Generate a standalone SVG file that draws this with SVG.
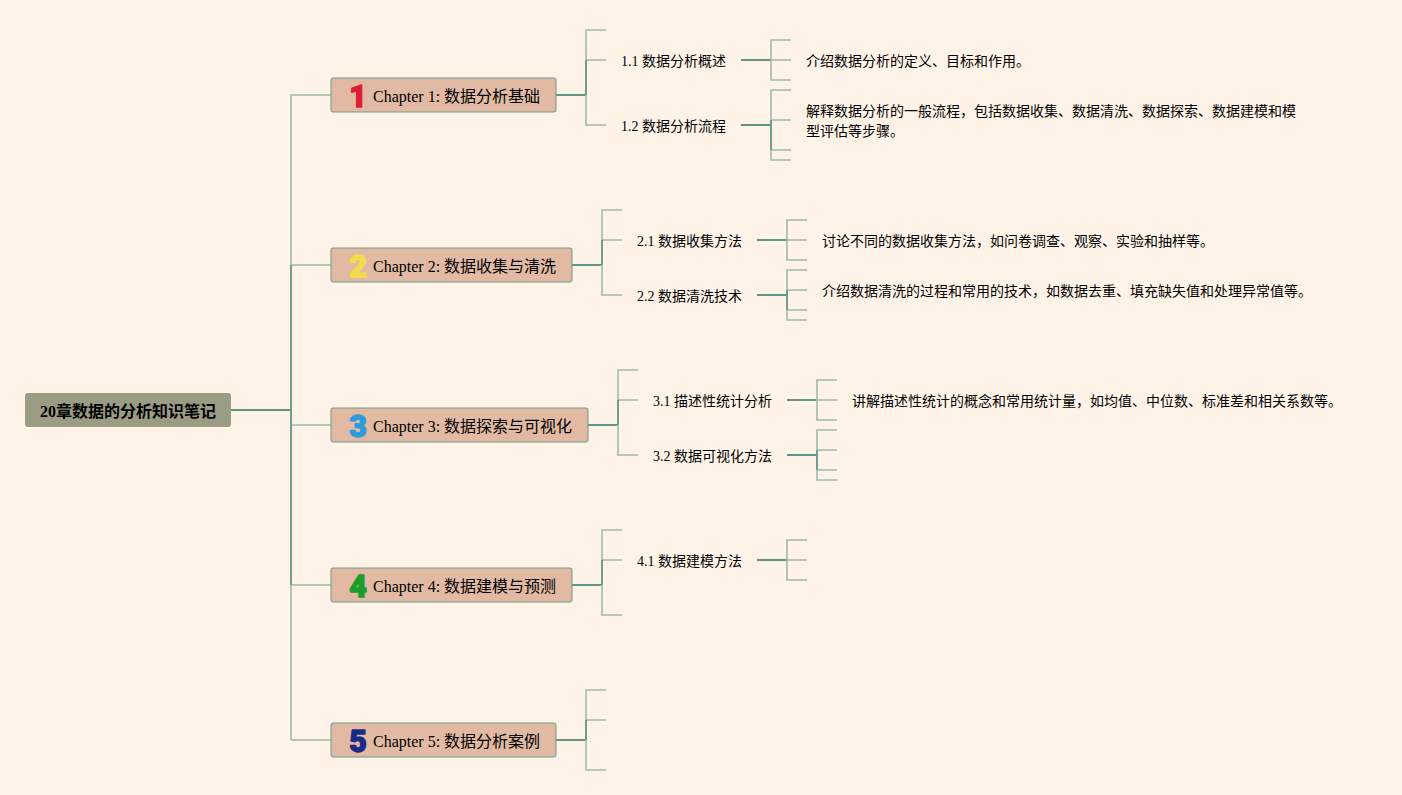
<svg xmlns="http://www.w3.org/2000/svg" width="1402" height="795" viewBox="0 0 1402 795">
<style>
.bg{fill:#fff3e8}
.l{fill:none;stroke:#9dbcaa;stroke-width:1.6}
.d{fill:none;stroke:#5f9684;stroke-width:2.2}
.m{fill:none;stroke:#6f9f90;stroke-width:2}
.ch{fill:#e2baa4;stroke:#6a9a88;stroke-width:1}
.root{fill:#9a9d83}
text{font-family:"Liberation Serif","Noto Sans CJK SC",serif;fill:#000}
.t1{font-size:16px}
.t2{font-size:14px}
.t0{font-size:16px;font-weight:bold}
.n{font-family:Roboto,"Liberation Sans",sans-serif;font-size:32px;font-weight:900;text-anchor:middle;stroke-width:1.4;stroke-linejoin:round}
</style>
<rect class="bg" width="1402" height="795"/>
<g id="connectors">
<path class="l" d="M331 95H291V265M291 265H331M291 425H331M291 585H331M291 740H331M291 585V740"/>
<path class="m" d="M291 265V585"/>
<path class="d" d="M231 410H291"/>
<path class="d" d="M556 95H586M572 265H602M588 425H618M572 585H602M556 740H586"/>
<path class="l" d="M606 30H586V60H606M586 95V125H606"/>
<path class="m" d="M586 60V95"/>
<path class="d" d="M741 60H771M741 125H771"/>
<path class="l" d="M791 40H771V80H791M771 60H791M791 90H771V120H791M771 150H791M771 150V160H791"/>
<path class="m" d="M771 120V150"/>
<path class="l" d="M622 210H602V240H622M602 265V295H622"/>
<path class="m" d="M602 240V265"/>
<path class="d" d="M757 240H787M757 295H787"/>
<path class="l" d="M807 220H787V260H807M787 240H807M807 270H787V290H807M787 310H807M787 310V320H807"/>
<path class="m" d="M787 290V310"/>
<path class="l" d="M638 370H618V400H638M618 425V455H638"/>
<path class="m" d="M618 400V425"/>
<path class="d" d="M787 400H817M787 455H817"/>
<path class="l" d="M837 380H817V420H837M817 400H837M837 430H817V450H837M817 470H837M817 470V480H837"/>
<path class="m" d="M817 450V470"/>
<path class="l" d="M622 530H602V560H622M602 585V615H622"/>
<path class="m" d="M602 560V585"/>
<path class="d" d="M757 560H787"/>
<path class="l" d="M807 540H787V580H807M787 560H807"/>
<path class="l" d="M606 690H586V720H606M586 740V770H606"/>
<path class="m" d="M586 720V740"/>
</g>
<g id="root"><rect class="root" x="25" y="393" width="206" height="34" rx="3"/><text class="t0" x="40" y="417">20章数据的分析知识笔记</text></g>
<g id="ch1"><rect class="ch" x="331" y="78" width="225" height="34" rx="2"/><text class="n" transform="translate(358 106.500) scale(.95 1)" stroke="#dc1e32" style="fill:#dc1e32">1</text><text class="t1" x="373" y="102">Chapter 1: 数据分析基础</text></g>
<g id="ch2"><rect class="ch" x="331" y="248" width="241" height="34" rx="2"/><text class="n" transform="translate(358 276.500) scale(.95 1)" stroke="#f3dc4a" style="fill:#f3dc4a">2</text><text class="t1" x="373" y="272">Chapter 2: 数据收集与清洗</text></g>
<g id="ch3"><rect class="ch" x="331" y="408" width="257" height="34" rx="2"/><text class="n" transform="translate(358 436.500) scale(.95 1)" stroke="#2e9bdc" style="fill:#2e9bdc">3</text><text class="t1" x="373" y="432">Chapter 3: 数据探索与可视化</text></g>
<g id="ch4"><rect class="ch" x="331" y="568" width="241" height="34" rx="2"/><text class="n" transform="translate(358 596.500) scale(.95 1)" stroke="#1a9e2c" style="fill:#1a9e2c">4</text><text class="t1" x="373" y="592">Chapter 4: 数据建模与预测</text></g>
<g id="ch5"><rect class="ch" x="331" y="723" width="225" height="34" rx="2"/><text class="n" transform="translate(358 751.500) scale(.95 1)" stroke="#1a2a86" style="fill:#1a2a86">5</text><text class="t1" x="373" y="747">Chapter 5: 数据分析案例</text></g>
<g id="s11"><text class="t2" x="621" y="66">1.1 数据分析概述</text></g>
<g id="s12"><text class="t2" x="621" y="131">1.2 数据分析流程</text></g>
<g id="s21"><text class="t2" x="637" y="246">2.1 数据收集方法</text></g>
<g id="s22"><text class="t2" x="637" y="301">2.2 数据清洗技术</text></g>
<g id="s31"><text class="t2" x="653" y="406">3.1 描述性统计分析</text></g>
<g id="s32"><text class="t2" x="653" y="461">3.2 数据可视化方法</text></g>
<g id="s41"><text class="t2" x="637" y="566">4.1 数据建模方法</text></g>
<g id="n11"><text class="t2" x="806" y="66">介绍数据分析的定义、目标和作用。</text></g>
<g id="n12"><text class="t2" x="806" y="116">解释数据分析的一般流程，包括数据收集、数据清洗、数据探索、数据建模和模</text><text class="t2" x="806" y="136">型评估等步骤。</text></g>
<g id="n21"><text class="t2" x="822" y="246">讨论不同的数据收集方法，如问卷调查、观察、实验和抽样等。</text></g>
<g id="n22"><text class="t2" x="822" y="296">介绍数据清洗的过程和常用的技术，如数据去重、填充缺失值和处理异常值等。</text></g>
<g id="n31"><text class="t2" x="852" y="406">讲解描述性统计的概念和常用统计量，如均值、中位数、标准差和相关系数等。</text></g>
</svg>
